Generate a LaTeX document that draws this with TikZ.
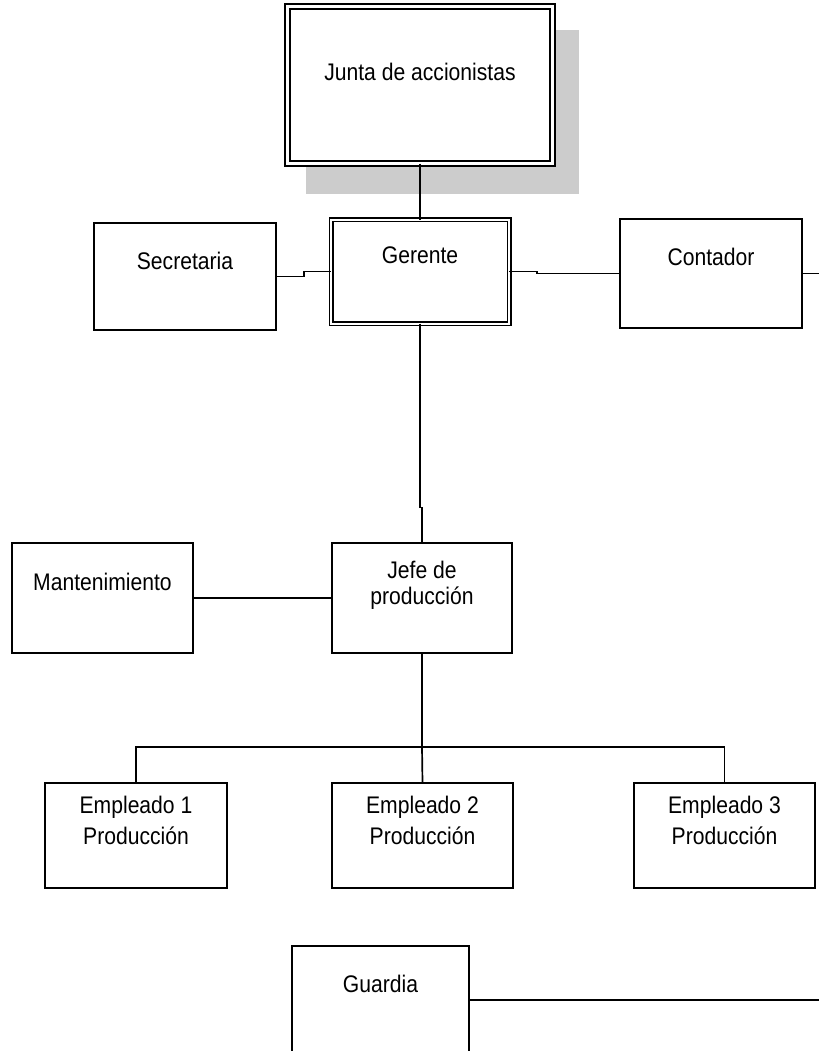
\documentclass[tikz,border=0pt]{standalone}
\usepackage{fontspec}
\setmainfont{Liberation Sans}[FakeStretch=0.88]
\begin{document}
\begin{tikzpicture}[x=1pt,y=-1pt,
  box/.style={draw,line width=1.8pt,fill=white,minimum width=#1,inner sep=0pt,outer sep=0pt},
  lbl/.style={font=\fontsize{24}{26}\selectfont,align=center,inner sep=0pt},
  conn/.style={line width=1.7pt}]
\useasboundingbox (0,0) rectangle (819,1051);
% shadow
\fill[gray!40] (306,30) rectangle (579,194);
% double boxes
\node[draw,fill=white,double,double distance=3pt,line width=2pt,minimum width=265pt,minimum height=157.5pt,inner sep=0pt,outer sep=0pt] (junta) at (420,85) {};
\node[lbl] (juntat) at (420,72) {Junta de accionistas};
\node[draw,fill=white,double,double distance=2pt,line width=1.5pt,minimum width=178pt,minimum height=104pt,inner sep=0pt,outer sep=0pt] (gerente) at (420,271.5) {};
\node[lbl] (gerentet) at (420,255) {Gerente};
% simple boxes
\node[box=182pt,minimum height=107pt] (secretaria) at (185,276.5) {};
\node[lbl] (secretariat) at (185,261) {Secretaria};
\node[box=182pt,minimum height=109pt] (contador) at (711,273.5) {};
\node[lbl] (contadort) at (711,257) {Contador};
\node[box=181pt,minimum height=110pt] (mant) at (102.5,598) {};
\node[lbl] (mantt) at (102.5,582) {Mantenimiento};
\node[box=180pt,minimum height=110pt] (jefe) at (422,598) {};
\node[lbl] (jefet) at (422,585) {Jefe de\\producción};
\node[box=182pt,minimum height=105pt] (emp1) at (136,835.5) {};
\node[lbl,font=\fontsize{24}{31}\selectfont] (emp1t) at (136,820) {Empleado 1\\Producción};
\node[box=181pt,minimum height=105pt] (emp2) at (422.5,835.5) {};
\node[lbl,font=\fontsize{24}{31}\selectfont] (emp2t) at (422.5,820) {Empleado 2\\Producción};
\node[box=181pt,minimum height=105pt] (emp3) at (724.5,835.5) {};
\node[lbl,font=\fontsize{24}{31}\selectfont] (emp3t) at (724.5,820) {Empleado 3\\Producción};
\node[box=177pt,minimum height=108pt] (guardia) at (380.5,1000) {};
\node[lbl] (guardiat) at (380.5,984) {Guardia};
% free ends
\coordinate (rc) at (819,273.5);
\coordinate (rg) at (819,1000);
% connectors
\draw[conn] (junta.south) -- (gerente.north);
\draw[conn] (secretaria.east) -- ++(28,0) |- (gerente.west);
\draw[conn] (gerente.east) -- ++(28,0) |- (contador.west);
\draw[conn] (contador.east) -- (rc);
\draw[conn] (gerente.south) -- ++(0,184) -| (jefe.north);
\draw[conn] (mant.east) -- (jefe.west);
\draw[conn] (jefe.south) -- ++(0,94) coordinate (bus);
\draw[conn] (emp1.north) |- (bus) -| (emp3.north);
\draw[conn] (bus) -- (emp2.north);
\draw[conn] (guardia.east) -- (rg);
\end{tikzpicture}
\end{document}
